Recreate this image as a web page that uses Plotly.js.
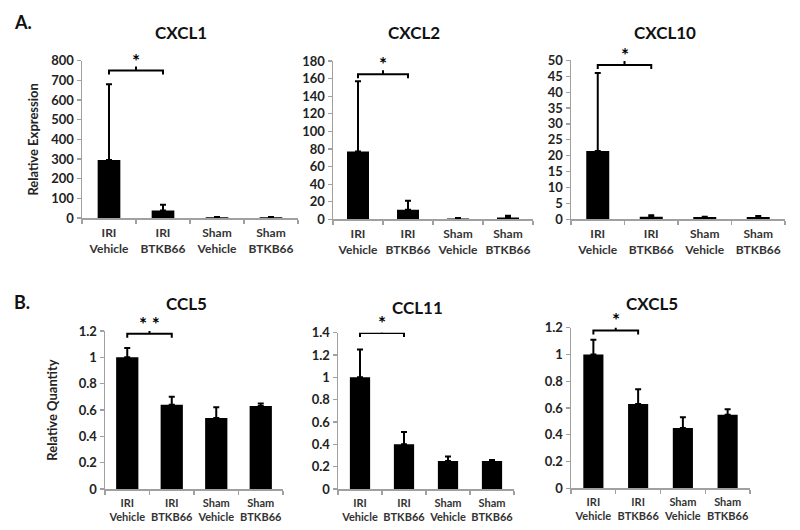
<!DOCTYPE html>
<html>
<head>
<meta charset="utf-8">
<script src="https://cdn.plot.ly/plotly-3.0.1.min.js"></script>
<style>html,body{margin:0;padding:0;background:#fff;}#chart{width:800px;height:530px;}</style>
</head>
<body>
<div id="chart"></div>
<script>
// ---- data ----
const categories = ["IRI<br>Vehicle", "IRI<br>BTKB66", "Sham<br>Vehicle", "Sham<br>BTKB66"];
const panelTitles = ["CXCL1", "CXCL2", "CXCL10", "CCL5", "CCL11", "CXCL5"];

const cxcl1 = [295, 38, 4, 4];
const cxcl1Err = [385, 30, 1, 1];
const cxcl2 = [77, 11, 1, 2];
const cxcl2Err = [80, 10, 0.5, 2];
const cxcl10 = [21.5, 0.8, 0.7, 0.7];
const cxcl10Err = [24.5, 0.5, 0.1, 0.3];
const ccl5 = [1.0, 0.64, 0.54, 0.63];
const ccl5Err = [0.07, 0.06, 0.08, 0.02];
const ccl11 = [1.0, 0.40, 0.25, 0.25];
const ccl11Err = [0.25, 0.11, 0.04, 0.01];
const cxcl5 = [1.0, 0.63, 0.45, 0.55];
const cxcl5Err = [0.11, 0.11, 0.08, 0.04];

const yMax = [800, 180, 50, 1.2, 1.4, 1.2];
const yStep = [100, 20, 5, 0.2, 0.2, 0.2];
const sigLevel = [750, 165, 48.5, 1.18, 1.398, 1.18];
const sigLabel = ["*", "*", "*", "* *", "*", "*"];
const yTitles = ["Relative Expression", "", "", "Relative Quantity", "", ""];

// ---- layout geometry (pixels) ----
const W = 800, H = 530;
const boxes = [
  {x0: 82, x1: 298, yb: 218, yt: 60.7, bw: 0.42, lf: 12},
  {x0: 333, x1: 533, yb: 219.3, yt: 61, bw: 0.44, lf: 12},
  {x0: 571, x1: 785, yb: 219.3, yt: 60.3, bw: 0.43, lf: 12},
  {x0: 105, x1: 283, yb: 489, yt: 331, bw: 0.5, lf: 11},
  {x0: 338, x1: 514, yb: 489, yt: 332.7, bw: 0.46, lf: 11},
  {x0: 571, x1: 750, yb: 488.3, yt: 327.7, bw: 0.45, lf: 11}
];
const titlePos = [[181, 33], [414, 33], [665, 33], [186, 303], [417, 307], [652, 303]];
const yStandoff = [9, 0, 0, 18, 0, 0];

const values = [cxcl1, cxcl2, cxcl10, ccl5, ccl11, cxcl5];
const errs = [cxcl1Err, cxcl2Err, cxcl10Err, ccl5Err, ccl11Err, cxcl5Err];

const FONT = "Lato, 'Open Sans', sans-serif";
const axisGray = "#a0a0a0";
const idx = categories.map((c, k) => k);

const traces = [];
const layout = {
  width: W, height: H,
  margin: {l: 0, r: 0, t: 0, b: 0},
  paper_bgcolor: "#fff", plot_bgcolor: "#fff",
  showlegend: false,
  font: {family: FONT, color: "#222"},
  annotations: []
};

for (let i = 0; i < 6; i++) {
  const sfx = i === 0 ? "" : String(i + 1);
  const b = boxes[i];
  const xr = "x" + sfx, yr = "y" + sfx;
  traces.push({
    type: "bar",
    x: idx, y: values[i],
    xaxis: xr, yaxis: yr,
    width: b.bw,
    marker: {color: "#000", line: {width: 0}},
    error_y: {type: "data", array: errs[i], arrayminus: [0, 0, 0, 0], symmetric: false,
              color: "#000", thickness: 2, width: 3},
    hoverinfo: "skip"
  });
  // significance bracket
  const L = sigLevel[i];
  const pxPerUnit = (b.yb - b.yt) / yMax[i];
  const d = 4 / pxPerUnit;
  traces.push({
    type: "scatter", mode: "lines",
    x: [0, 0, 1, 1, null, 0.5, 0.5],
    y: [L - d, L, L, L - d, null, L, L + d],
    xaxis: xr, yaxis: yr,
    line: {color: "#000", width: 2},
    cliponaxis: false, hoverinfo: "skip"
  });
  layout.annotations.push({
    xref: xr, yref: yr, x: 0.5, y: L, yanchor: "bottom", yshift: -3,
    text: sigLabel[i], showarrow: false,
    font: {family: FONT, size: 19, color: "#000", weight: "bold"}
  });

  const xa = {
    domain: [b.x0 / W, b.x1 / W],
    anchor: yr,
    type: "linear",
    range: [-0.5, 3.5],
    tickmode: "array", tickvals: idx, ticktext: categories, tickangle: 0,
    ticklabelstandoff: 3,
    showline: true, linecolor: axisGray, linewidth: 1.5,
    ticks: "",
    minor: {tickmode: "linear", tick0: -0.5, dtick: 1, ticks: "outside", ticklen: 4,
            tickcolor: axisGray, tickwidth: 1.2, showgrid: false},
    showgrid: false, zeroline: false,
    tickfont: {family: FONT, size: b.lf, color: "#333", weight: "bold"},
    fixedrange: true
  };
  const ya = {
    domain: [(H - b.yb) / H, (H - b.yt) / H],
    anchor: xr,
    range: [0, yMax[i]],
    dtick: yStep[i], tick0: 0,
    showline: true, linecolor: axisGray, linewidth: 1.5,
    ticks: "outside", ticklen: 4, tickcolor: axisGray, tickwidth: 1.2,
    showgrid: false, zeroline: false,
    tickfont: {family: FONT, size: 13, color: "#222", weight: "bold"},
    fixedrange: true
  };
  if (yTitles[i]) {
    ya.title = {text: yTitles[i], font: {family: FONT, size: 13, color: "#222", weight: "bold"}, standoff: yStandoff[i]};
  }
  layout["xaxis" + sfx] = xa;
  layout["yaxis" + sfx] = ya;

  layout.annotations.push({
    xref: "paper", yref: "paper", x: titlePos[i][0] / W, y: 1 - titlePos[i][1] / H,
    xanchor: "center", yanchor: "middle", text: panelTitles[i], showarrow: false,
    font: {family: FONT, size: 17, color: "#111", weight: "bold"}
  });
}
layout.annotations.push(
  {xref: "paper", yref: "paper", x: 12 / W, y: 1 - 22 / H, xanchor: "left", yanchor: "middle",
   text: "A.", showarrow: false, font: {family: FONT, size: 18, color: "#111", weight: "bold"}},
  {xref: "paper", yref: "paper", x: 12 / W, y: 1 - 302 / H, xanchor: "left", yanchor: "middle",
   text: "B.", showarrow: false, font: {family: FONT, size: 18, color: "#111", weight: "bold"}}
);

Plotly.newPlot("chart", traces, layout, {displayModeBar: false, staticPlot: true});
</script>
</body>
</html>
